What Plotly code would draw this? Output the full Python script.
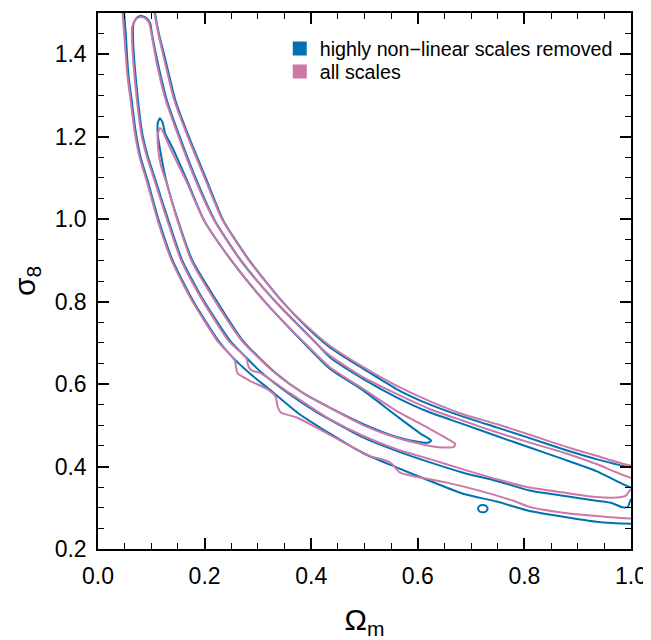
import plotly.graph_objects as go

BLUE = "#0072B2"
PINK = "#CC79A7"

# ---- blue: highly non-linear scales removed ----
blue_outer_om = [0.047, 0.049, 0.052, 0.057, 0.063, 0.071, 0.080, 0.093, 0.114, 0.140, 0.178, 0.226, 0.254, 0.290, 0.317, 0.375, 0.440,
                 0.498, 0.560, 0.623, 0.685, 0.748, 0.810, 0.873, 0.935, 1.000, 1.030, 1.030, 1.000, 0.935, 0.873, 0.810, 0.748,
                 0.685, 0.623, 0.560, 0.498, 0.435, 0.390, 0.344, 0.284, 0.235, 0.204, 0.168, 0.145, 0.124, 0.114, 0.107, 0.103, 0.047]
blue_outer_s8 = [1.540, 1.500, 1.450, 1.350, 1.290, 1.210, 1.150, 1.094, 0.997, 0.900, 0.803, 0.705, 0.663, 0.620, 0.592, 0.530, 0.476,
                 0.432, 0.398, 0.365, 0.334, 0.315, 0.292, 0.278, 0.266, 0.261, 0.261, 0.398, 0.398, 0.418, 0.442, 0.469, 0.495,
                 0.521, 0.550, 0.588, 0.637, 0.689, 0.740, 0.803, 0.900, 0.997, 1.094, 1.208, 1.289, 1.400, 1.451, 1.500, 1.540, 1.540]

blue_mid_om = [0.079, 0.071, 0.066, 0.066, 0.069, 0.075, 0.083, 0.094, 0.108, 0.132, 0.158, 0.198, 0.248, 0.280, 0.305, 0.360, 0.410,
               0.440, 0.498, 0.560, 0.623, 0.685, 0.748, 0.810, 0.873, 0.935, 0.965, 0.984, 0.994, 1.000, 1.030, 1.030, 1.000,
               0.935, 0.873, 0.810, 0.748, 0.685, 0.623, 0.560, 0.498, 0.435, 0.405, 0.331, 0.268, 0.219, 0.185, 0.151, 0.129,
               0.112, 0.101, 0.098, 0.090, 0.079]
blue_mid_s8 = [1.493, 1.486, 1.470, 1.430, 1.370, 1.289, 1.208, 1.150, 1.094, 0.997, 0.900, 0.803, 0.705, 0.662, 0.630, 0.575, 0.532,
               0.510, 0.470, 0.438, 0.410, 0.385, 0.365, 0.342, 0.329, 0.317, 0.311, 0.301, 0.302, 0.320, 0.335, 0.349, 0.349,
               0.389, 0.418, 0.446, 0.474, 0.503, 0.531, 0.568, 0.612, 0.665, 0.705, 0.803, 0.900, 0.997, 1.094, 1.208, 1.289,
               1.380, 1.451, 1.475, 1.489, 1.493]

blue_inner_om = [0.116, 0.112, 0.112, 0.119, 0.128, 0.150, 0.177, 0.222, 0.272, 0.335, 0.385, 0.435, 0.498, 0.560, 0.605, 0.620,
                 0.625, 0.618, 0.605, 0.560, 0.498, 0.435, 0.382, 0.311, 0.250, 0.199, 0.167, 0.141, 0.126, 0.121, 0.116]
blue_inner_s8 = [1.245, 1.232, 1.208, 1.150, 1.094, 0.997, 0.900, 0.803, 0.705, 0.625, 0.578, 0.543, 0.503, 0.472, 0.459, 0.458,
                 0.463, 0.470, 0.480, 0.523, 0.584, 0.637, 0.705, 0.803, 0.900, 0.997, 1.094, 1.170, 1.208, 1.235, 1.245]

blue_island_om = [0.713, 0.716, 0.722, 0.728, 0.731, 0.728, 0.722, 0.716, 0.713]
blue_island_s8 = [0.298, 0.305, 0.307, 0.305, 0.298, 0.291, 0.289, 0.291, 0.298]

# ---- pink: all scales ----
pink_outer_om = [0.044, 0.046, 0.049, 0.055, 0.061, 0.069, 0.078, 0.091, 0.112, 0.138, 0.176, 0.224, 0.250, 0.257, 0.259, 0.262,
                 0.285, 0.317, 0.333, 0.337, 0.343, 0.373, 0.435, 0.473, 0.510, 0.548, 0.567, 0.598, 0.654, 0.717, 0.779, 0.810,
                 0.873, 0.935, 1.000, 1.030, 1.030, 1.000, 0.935, 0.873, 0.810, 0.748, 0.685, 0.623, 0.560, 0.498, 0.435, 0.390,
                 0.342, 0.282, 0.233, 0.202, 0.166, 0.143, 0.122, 0.113, 0.106, 0.102, 0.044]
pink_outer_s8 = [1.540, 1.500, 1.450, 1.350, 1.290, 1.210, 1.150, 1.094, 0.997, 0.900, 0.803, 0.705, 0.668, 0.657, 0.640, 0.626,
                 0.608, 0.588, 0.570, 0.545, 0.531, 0.519, 0.477, 0.450, 0.426, 0.410, 0.385, 0.375, 0.361, 0.341, 0.317, 0.302,
                 0.288, 0.280, 0.274, 0.274, 0.402, 0.402, 0.426, 0.450, 0.477, 0.503, 0.527, 0.558, 0.596, 0.641, 0.693, 0.743,
                 0.805, 0.902, 0.999, 1.094, 1.208, 1.289, 1.400, 1.451, 1.500, 1.540, 1.540]

pink_mid_om = [0.079, 0.070, 0.064, 0.064, 0.067, 0.073, 0.081, 0.092, 0.106, 0.130, 0.156, 0.196, 0.245, 0.272, 0.279, 0.283,
               0.290, 0.304, 0.360, 0.410, 0.435, 0.498, 0.560, 0.623, 0.685, 0.748, 0.810, 0.873, 0.935, 0.973, 0.990, 1.000,
               1.030, 1.030, 1.000, 0.935, 0.873, 0.810, 0.748, 0.685, 0.623, 0.560, 0.498, 0.435, 0.403, 0.329, 0.266, 0.217,
               0.183, 0.149, 0.127, 0.110, 0.100, 0.096, 0.089, 0.079]
pink_mid_s8 = [1.490, 1.483, 1.466, 1.430, 1.370, 1.289, 1.208, 1.150, 1.094, 0.997, 0.900, 0.803, 0.705, 0.672, 0.661, 0.640,
               0.632, 0.627, 0.578, 0.535, 0.515, 0.474, 0.442, 0.418, 0.393, 0.369, 0.349, 0.337, 0.326, 0.325, 0.329, 0.345,
               0.360, 0.373, 0.373, 0.406, 0.434, 0.458, 0.483, 0.511, 0.539, 0.576, 0.616, 0.669, 0.707, 0.805, 0.902, 0.999,
               1.094, 1.208, 1.289, 1.380, 1.451, 1.475, 1.487, 1.490]

pink_inner_om = [0.116, 0.112, 0.113, 0.118, 0.127, 0.149, 0.175, 0.219, 0.270, 0.332, 0.383, 0.435, 0.498, 0.560, 0.623, 0.655,
                 0.668, 0.670, 0.660, 0.623, 0.560, 0.498, 0.435, 0.382, 0.309, 0.249, 0.198, 0.165, 0.138, 0.126, 0.121, 0.116]
pink_inner_s8 = [1.221, 1.205, 1.170, 1.130, 1.094, 0.997, 0.900, 0.803, 0.705, 0.627, 0.580, 0.542, 0.500, 0.470, 0.450, 0.446,
                 0.448, 0.455, 0.464, 0.491, 0.535, 0.588, 0.641, 0.707, 0.805, 0.902, 0.999, 1.094, 1.165, 1.200, 1.215, 1.221]

series = [
    ("highly non\u2212linear scales removed", BLUE, "legend",
     [(blue_outer_om, blue_outer_s8), (blue_mid_om, blue_mid_s8), (blue_inner_om, blue_inner_s8),
      (blue_island_om, blue_island_s8)]),
    ("all scales", PINK, "legend2",
     [(pink_outer_om, pink_outer_s8), (pink_mid_om, pink_mid_s8), (pink_inner_om, pink_inner_s8)]),
]

x_ticks = [0.0, 0.2, 0.4, 0.6, 0.8, 1.0]
y_ticks = [0.2, 0.4, 0.6, 0.8, 1.0, 1.2, 1.4]

FONT = "Liberation Sans, Arial, Helvetica, sans-serif"

fig = go.Figure()
for name, color, leg, paths in series:
    for xs, ys in paths:
        fig.add_trace(go.Scatter(x=xs, y=ys, mode="lines", showlegend=False, hoverinfo="skip",
                                 line=dict(color=color, width=2, shape="spline", smoothing=0.6)))
for name, color, leg, _ in series:
    fig.add_trace(go.Scatter(x=[None], y=[None], mode="markers", name=name, legend=leg,
                             marker=dict(symbol="square", size=14, color=color)))

axis_common = dict(
    showline=True, linecolor="black", linewidth=1.5, mirror="allticks",
    ticks="inside", ticklen=11, tickwidth=1.5, tickcolor="black",
    showgrid=False, zeroline=False, tickformat=".1f",
    tickfont=dict(family=FONT, size=23, color="black"),
    minor=dict(ticks="inside", ticklen=6, tickwidth=1.2, tickcolor="black", dtick=0.05, showgrid=False),
)

fig.update_xaxes(range=[0, 1], tickvals=x_ticks, ticklabelstandoff=6,
                 title=dict(text="\u03a9<sub>m</sub>", font=dict(family=FONT, size=30, color="black"), standoff=28),
                 **axis_common)
fig.update_yaxes(range=[0.2, 1.5], tickvals=y_ticks, ticklabelstandoff=5,
                 title=dict(text="\u03c3<sub>8</sub>", font=dict(family=FONT, size=30, color="black"), standoff=28),
                 **axis_common)

legend_common = dict(x=0.341, xanchor="left", yanchor="top", bgcolor="rgba(0,0,0,0)",
                     font=dict(family=FONT, size=19.7, color="black"))

fig.update_layout(
    width=643, height=632,
    margin=dict(l=90, r=20, t=5, b=91, autoexpand=False),
    plot_bgcolor="white", paper_bgcolor="white",
    font=dict(family=FONT, color="black"),
    legend=dict(y=0.970, **legend_common),
    legend2=dict(y=0.927, **legend_common),
)

fig.write_html("out.html")
